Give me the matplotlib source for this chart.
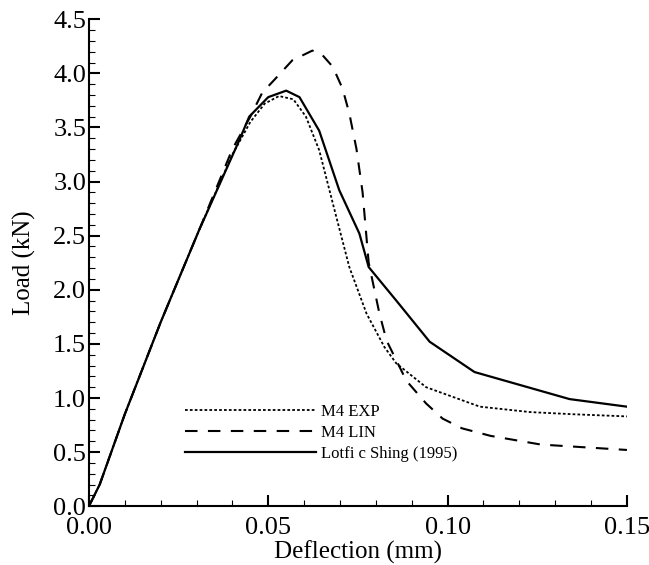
import matplotlib
matplotlib.use('Agg')
from matplotlib import pyplot as plt
from matplotlib.ticker import MultipleLocator, FormatStrFormatter

plt.rcParams['font.family'] = ['Liberation Serif', 'DejaVu Serif']

# M4 EXP (dotted)
exp_x = [0.0, 0.003, 0.010, 0.020, 0.0307, 0.040, 0.045, 0.049, 0.053, 0.057, 0.0605, 0.0642,
         0.069, 0.0726, 0.0774, 0.0824, 0.0857, 0.094, 0.109, 0.123, 0.135, 0.15]
exp_y = [0.0, 0.2, 0.85, 1.7, 2.55, 3.25, 3.55, 3.72, 3.79, 3.76, 3.6, 3.29,
         2.67, 2.21, 1.78, 1.47, 1.32, 1.10, 0.92, 0.87, 0.85, 0.83]

# M4 LIN (dashed)
lin_x = [0.0, 0.003, 0.010, 0.020, 0.0307, 0.040, 0.045, 0.0483, 0.0517, 0.0567, 0.0623, 0.0648,
         0.068, 0.0707, 0.0726, 0.0746, 0.0763, 0.078, 0.081, 0.083, 0.0885, 0.094, 0.0986,
         0.104, 0.112, 0.126, 0.15]
lin_y = [0.0, 0.2, 0.85, 1.7, 2.55, 3.3, 3.6, 3.82, 3.94, 4.12, 4.21, 4.18,
         4.06, 3.86, 3.63, 3.3, 2.9, 2.25, 1.78, 1.53, 1.16, 0.95, 0.81,
         0.72, 0.65, 0.57, 0.52]

# Lotfi c Shing (1995) (solid)
ls_x = [0.0, 0.003, 0.010, 0.020, 0.0307, 0.0419, 0.0447, 0.050, 0.055, 0.0587, 0.0642, 0.0698,
        0.0754, 0.078, 0.0857, 0.095, 0.1075, 0.134, 0.15]
ls_y = [0.0, 0.2, 0.85, 1.7, 2.55, 3.38, 3.6, 3.78, 3.84, 3.78, 3.47, 2.92,
        2.52, 2.21, 1.90, 1.52, 1.24, 0.99, 0.92]

fig = plt.figure(figsize=(6.49, 5.65), dpi=100)
ax = fig.add_axes([0.137, 0.104, 0.829, 0.862])

ax.plot(exp_x, exp_y, color='black', linestyle=(0, (1.5, 1.2)), linewidth=1.3, label='M4 EXP')
ax.plot(lin_x, lin_y, color='black', linestyle=(0, (6, 5)), linewidth=1.5, label='M4 LIN')
ax.plot(ls_x, ls_y, color='black', linestyle='-', linewidth=1.6, label='Lotfi c Shing (1995)')

ax.set_xlim(0, 0.15)
ax.set_ylim(0, 4.5)
ax.xaxis.set_major_locator(MultipleLocator(0.05))
ax.xaxis.set_minor_locator(MultipleLocator(0.01))
ax.yaxis.set_major_locator(MultipleLocator(0.5))
ax.yaxis.set_minor_locator(MultipleLocator(0.1))
ax.xaxis.set_major_formatter(FormatStrFormatter('%.2f'))
ax.yaxis.set_major_formatter(FormatStrFormatter('%.1f'))

ax.spines['top'].set_visible(False)
ax.spines['right'].set_visible(False)
ax.spines['left'].set_linewidth(1.5)
ax.spines['bottom'].set_linewidth(1.5)
ax.tick_params(which='major', direction='in', length=8, width=1.5, labelsize=19)
ax.tick_params(axis='y', which='major', pad=2)
ax.tick_params(axis='x', which='major', pad=8)
ax.tick_params(which='minor', direction='in', length=4, width=0.8)

ax.set_xlabel('Deflection (mm)', fontsize=18, labelpad=1)
ax.set_ylabel('Load (kN)', fontsize=18, labelpad=12)

ax.legend(loc='lower left', bbox_to_anchor=(0.15, 0.06), frameon=False, fontsize=12,
          handlelength=7.9, handletextpad=0.3, labelspacing=0.3)

fig.savefig('out.png', dpi=100)
